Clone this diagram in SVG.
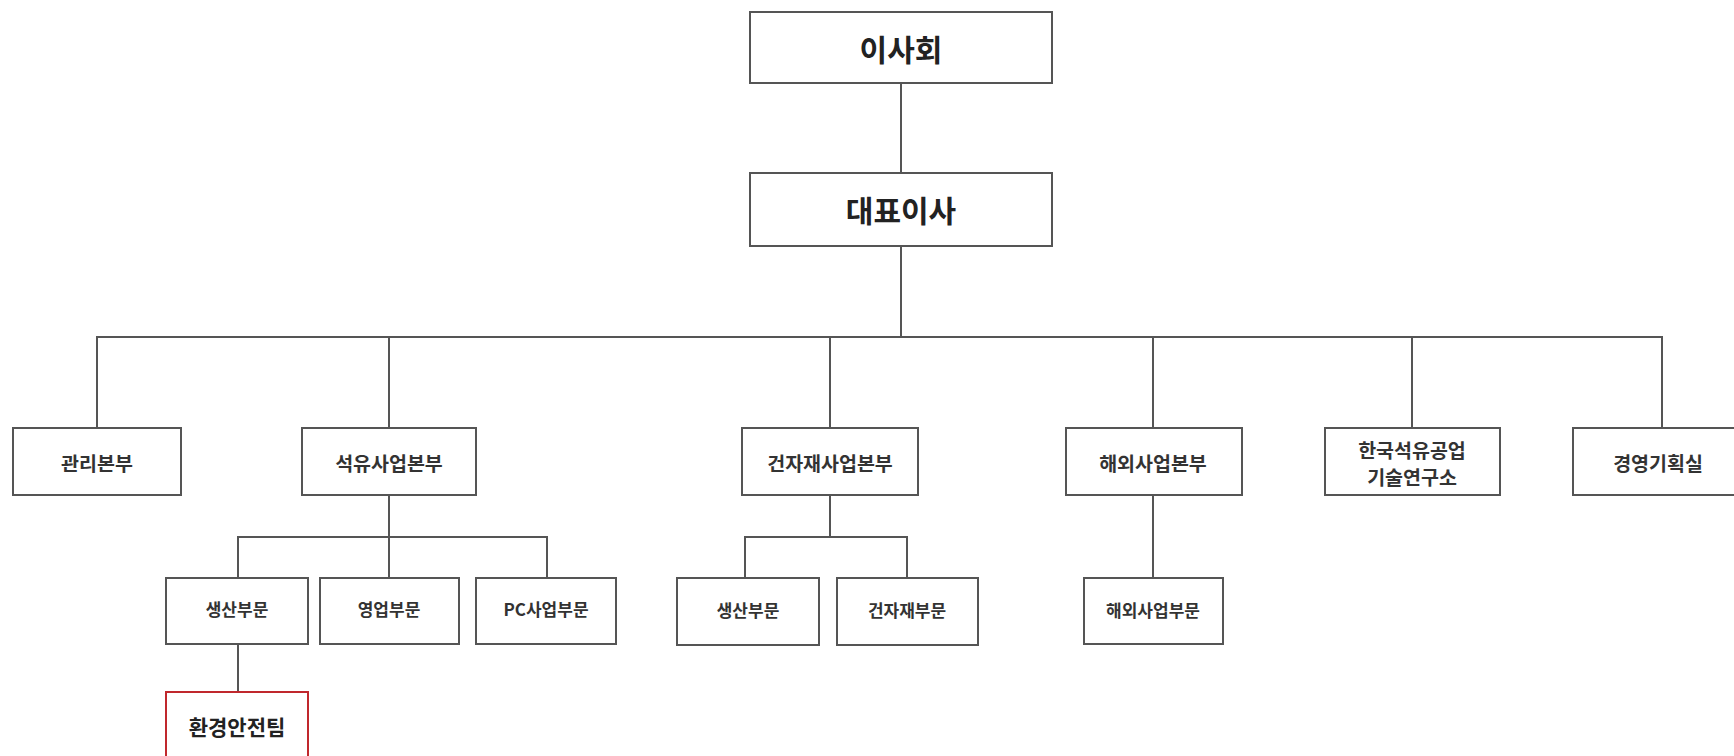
<svg xmlns="http://www.w3.org/2000/svg" width="1734" height="756" viewBox="0 0 1734 756">
<style>
.box{fill:#fff;stroke:#555;stroke-width:2}
.red{fill:#fff;stroke:#c0282d;stroke-width:2}
.ln{fill:none;stroke:#555;stroke-width:2}
text{font-family:"Noto Sans CJK KR","Noto Sans",sans-serif;fill:#222;text-anchor:middle;dominant-baseline:central}
.t1{font-size:30px;font-weight:bold}
.t2{font-size:19.5px;font-weight:bold;fill:#333}
.t3{font-size:17px;font-weight:bold;fill:#333}
.t4{font-size:21px;font-weight:bold}
</style>
<rect width="1734" height="756" fill="#fff"/>
<g id="connectors">
<path class="ln" d="M901 83V173"/>
<path class="ln" d="M901 246V337"/>
<path class="ln" d="M97 428V337H1662V428"/>
<path class="ln" d="M389 337V428"/>
<path class="ln" d="M830 337V428"/>
<path class="ln" d="M1153 337V428"/>
<path class="ln" d="M1412 337V428"/>
<path class="ln" d="M389 495V537"/>
<path class="ln" d="M238 578V537H547V578"/>
<path class="ln" d="M389 537V578"/>
<path class="ln" d="M238 644V692"/>
<path class="ln" d="M830 495V537"/>
<path class="ln" d="M745 578V537H907V578"/>
<path class="ln" d="M1153 495V578"/>
</g>
<g id="n-board"><rect class="box" x="750" y="12" width="302" height="71"/><text class="t1" x="901" y="48">이사회</text></g>
<g id="n-ceo"><rect class="box" x="750" y="173" width="302" height="73"/><text class="t1" x="901" y="209">대표이사</text></g>
<g id="n-mgmt"><rect class="box" x="13" y="428" width="168" height="67"/><text class="t2" x="97" y="462">관리본부</text></g>
<g id="n-oil"><rect class="box" x="302" y="428" width="174" height="67"/><text class="t2" x="389" y="462">석유사업본부</text></g>
<g id="n-build"><rect class="box" x="742" y="428" width="176" height="67"/><text class="t2" x="830" y="462">건자재사업본부</text></g>
<g id="n-overseas"><rect class="box" x="1066" y="428" width="176" height="67"/><text class="t2" x="1153" y="462">해외사업본부</text></g>
<g id="n-lab"><rect class="box" x="1325" y="428" width="175" height="67"/><text class="t2" x="1412" y="449">한국석유공업</text><text class="t2" x="1412" y="476">기술연구소</text></g>
<g id="n-plan"><rect class="box" x="1573" y="428" width="180" height="67"/><text class="t2" x="1658" y="462">경영기획실</text></g>
<g id="n-prod1"><rect class="box" x="166" y="578" width="142" height="66"/><text class="t3" x="237" y="608">생산부문</text></g>
<g id="n-sales"><rect class="box" x="320" y="578" width="139" height="66"/><text class="t3" x="389" y="608">영업부문</text></g>
<g id="n-pc"><rect class="box" x="476" y="578" width="140" height="66"/><text class="t3" x="546" y="608">PC사업부문</text></g>
<g id="n-env"><rect class="red" x="166" y="692" width="142" height="80"/><text class="t4" x="237" y="726">환경안전팀</text></g>
<g id="n-prod2"><rect class="box" x="677" y="578" width="142" height="67"/><text class="t3" x="748" y="609">생산부문</text></g>
<g id="n-bmat"><rect class="box" x="837" y="578" width="141" height="67"/><text class="t3" x="907" y="609">건자재부문</text></g>
<g id="n-ovdiv"><rect class="box" x="1084" y="578" width="139" height="66"/><text class="t3" x="1153" y="609">해외사업부문</text></g>
</svg>
